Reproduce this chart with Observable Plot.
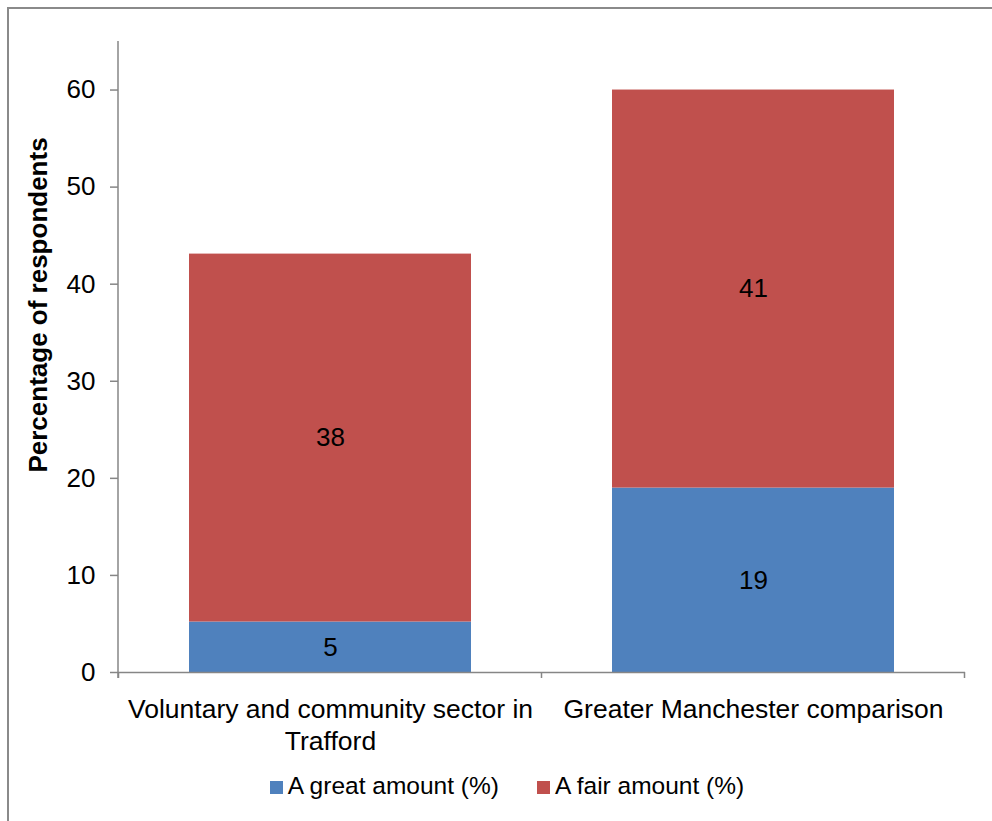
<!DOCTYPE html>
<html>
<head>
<meta charset="utf-8">
<script src="https://cdn.jsdelivr.net/npm/d3@7"></script>
<script src="https://cdn.jsdelivr.net/npm/@observablehq/plot@0.6"></script>
<style>
  html, body { margin: 0; padding: 0; background: #fff; overflow: hidden; }
  #wrap { position: relative; width: 992px; height: 821px; overflow: hidden; font-family: "Liberation Sans", Arial, sans-serif; }
  #frame { position: absolute; left: 7px; top: 7px; width: 1100px; height: 900px; border-top: 2px solid #8a8a8a; border-left: 2px solid #8a8a8a; pointer-events: none; }
  #chart svg { display: block; }
  #legend { display: flex; justify-content: center; align-items: baseline; padding-left: 22px; margin-top: 2px; font-size: 24.5px; color: #000; }
  .item { display: inline-flex; align-items: baseline; margin: 0 19px; }
  .sw { display: inline-block; width: 13px; height: 13px; margin-right: 5px; }
</style>
</head>
<body>
<div id="wrap">
  <div id="frame"></div>
  <div id="chart"></div>
  <div id="legend"></div>
</div>
<script>
// ---- data ----
const categories = ["Voluntary and community sector in\nTrafford", "Greater Manchester comparison"];
const seriesNames = ["A great amount (%)", "A fair amount (%)"];
const greatAmount = [5.2, 19];
const fairAmount = [37.9, 41];
const yTicks = [0, 10, 20, 30, 40, 50, 60];
const yLabel = "Percentage of respondents";
const colors = ["#4F81BD", "#C0504D"];

const rows = [];
categories.forEach((c, i) => {
  rows.push({cat: c, series: seriesNames[0], value: greatAmount[i]});
  rows.push({cat: c, series: seriesNames[1], value: fairAmount[i]});
});

const axisGray = "#868686";
const font = "Liberation Sans, Arial, sans-serif";

const chart = Plot.plot({
  width: 992,
  height: 770,
  marginLeft: 118,
  marginRight: 27,
  marginTop: 41,
  marginBottom: 98,
  style: {fontFamily: font, color: "#000", background: "#fff"},
  x: {domain: categories, paddingInner: 0.333, paddingOuter: 0.1665, label: null},
  y: {domain: [0, 65], label: null},
  color: {domain: seriesNames, range: colors},
  marks: [
    Plot.barY(rows, Plot.stackY({x: "cat", y: "value", fill: "series", order: seriesNames})),
    Plot.text(rows, Plot.stackY({x: "cat", y: "value", z: "series", order: seriesNames,
      text: d => d3.format(".0f")(d.value), fontSize: 26, fill: "#000"})),
    Plot.axisY({ticks: yTicks, tickSize: 8, tickPadding: 15, fontSize: 26, stroke: axisGray, strokeWidth: 1.5, fill: "#000", label: null}),
    Plot.axisX({tickSize: 0, tickPadding: 23, fontSize: 26.5, lineHeight: 1.2, fill: "#000", label: null}),
    Plot.ruleY([0], {stroke: axisGray, strokeWidth: 1.5}),
    Plot.text([yLabel], {frameAnchor: "left", textAnchor: "middle", dx: -80, dy: -52, rotate: -90, fontSize: 26, fontWeight: "bold", fill: "#000"})
  ]
});

document.getElementById("chart").appendChild(chart);

// axis lines and category boundary ticks computed from the scales
const xs = chart.scale("x");
const ys = chart.scale("y");
const svg = d3.select(chart);
const y0 = ys.apply(0);
const yTop = ys.apply(ys.domain[1]);
const gap = (xs.step - xs.bandwidth) / 2;
const xLeft = xs.range[0];
const g = svg.append("g").attr("stroke", axisGray).attr("stroke-width", 1.5);
g.append("line").attr("x1", xLeft).attr("x2", xLeft).attr("y1", yTop).attr("y2", y0 + 6);
const bounds = [xs.apply(categories[0]) - gap].concat(categories.map(c => xs.apply(c) + xs.bandwidth + gap));
bounds.forEach(b => g.append("line").attr("x1", b).attr("x2", b).attr("y1", y0).attr("y2", y0 + 6));

// legend
const lg = document.getElementById("legend");
seriesNames.forEach((s, i) => {
  const it = document.createElement("span");
  it.className = "item";
  const sw = document.createElement("span");
  sw.className = "sw";
  sw.style.background = colors[i];
  it.appendChild(sw);
  it.appendChild(document.createTextNode(s));
  lg.appendChild(it);
});
</script>
</body>
</html>
